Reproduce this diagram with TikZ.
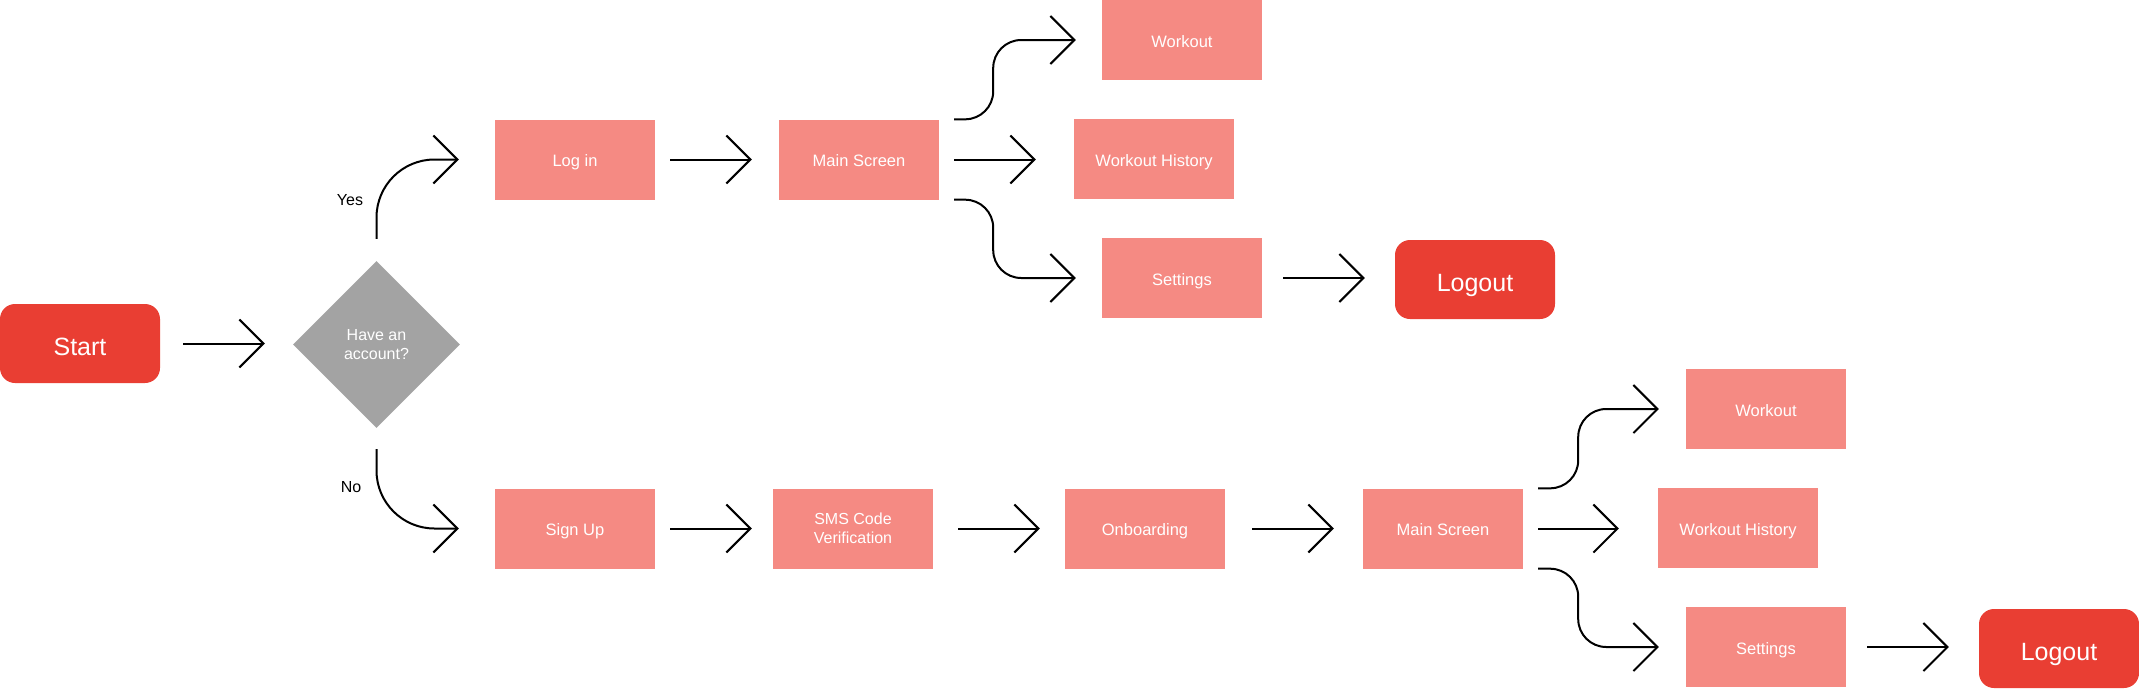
\documentclass[tikz,border=0pt]{standalone}
\usepackage{fontspec}
\setmainfont{Liberation Sans}
\usetikzlibrary{arrows.meta,shapes.geometric}
\definecolor{boxred}{HTML}{E93E33}
\definecolor{salmon}{HTML}{F58A83}
\definecolor{dgray}{HTML}{A3A3A3}
\begin{document}
\begin{tikzpicture}[x=1pt,y=1pt,
  term/.style={fill=boxred,rounded corners=15pt,minimum width=160pt,minimum height=79pt,inner sep=0pt,text=white,text height=24pt,text depth=0pt,font=\fontsize{25}{29}\selectfont},
  scr/.style={fill=salmon,minimum width=160pt,minimum height=80pt,inner sep=0pt,text=white,text height=14.8pt,text depth=0pt,font=\fontsize{16.5}{19}\selectfont},
  scrtwo/.style={fill=salmon,minimum width=160pt,minimum height=80pt,inner sep=0pt,text=white,align=center,font=\fontsize{16}{19}\selectfont},
  dec/.style={diamond,fill=dgray,minimum width=167pt,minimum height=167pt,aspect=1,inner sep=0pt,text=white,align=center,font=\fontsize{16}{19}\selectfont},
  conn/.style={draw=black,line width=2pt,-{Straight Barb[length=24pt,width=48pt]}},
  lbl/.style={font=\fontsize{16}{19}\selectfont,text=black}]
\useasboundingbox (0,0) rectangle (2139,-689);
% nodes
\node[term] (start) at (80,-343.5) {Start};
\node[dec] (d) at (376.5,-344.5) {Have an\\account?};
\node[scr] (login) at (575,-159.5) {Log in};
\node[scr] (m1) at (859,-159.5) {Main Screen};
\node[scr] (w1) at (1182,-40) {Workout};
\node[scr] (wh1) at (1154,-159) {Workout History};
\node[scr] (s1) at (1182,-278) {Settings};
\node[term] (lo1) at (1475,-279.5) {Logout};
\node[scr] (su) at (575,-528.5) {Sign Up};
\node[scrtwo] (sms) at (853,-528.5) {SMS Code\\Verification};
\node[scr] (onb) at (1145,-528.5) {Onboarding};
\node[scr] (m2) at (1443,-528.5) {Main Screen};
\node[scr] (w2) at (1766,-409) {Workout};
\node[scr] (wh2) at (1738,-528) {Workout History};
\node[scr] (s2) at (1766,-647) {Settings};
\node[term] (lo2) at (2059,-648.5) {Logout};
\node[lbl] (yes) at (350,-200) {Yes};
\node[lbl] (no) at (351,-487) {No};
% helper coordinates
\coordinate (c1) at ([xshift=54pt]m1.east);
\coordinate (c2) at ([xshift=55pt]m2.east);
% connectors
\draw[conn,shorten <=23pt,shorten >=28pt] (start.east) -- (start.east -| d.west);
\draw[conn,rounded corners=58pt] ([yshift=22pt]d.north) |- ([xshift=-36pt]login.west);
\draw[conn,rounded corners=58pt] ([yshift=-21pt]d.south) |- ([xshift=-36pt]su.west);
\draw[conn,shorten <=15pt,shorten >=27pt] (login.east) -- (m1.west);
\draw[conn,rounded corners=28pt] ([xshift=15pt]m1.north east) -| (c1 |- w1.west) -- ([xshift=-26pt]w1.west);
\draw[conn,shorten <=15pt,shorten >=38pt] (m1.east) -- (m1.east -| wh1.west);
\draw[conn,rounded corners=28pt] ([xshift=15pt]m1.south east) -| (c1 |- s1.west) -- ([xshift=-26pt]s1.west);
\draw[conn,shorten <=21pt,shorten >=30pt] (s1.east) -- (s1.east -| lo1.west);
\draw[conn,shorten <=15pt,shorten >=21pt] (su.east) -- (sms.west);
\draw[conn,shorten <=25pt,shorten >=25pt] (sms.east) -- (onb.west);
\draw[conn,shorten <=27pt,shorten >=29pt] (onb.east) -- (m2.west);
\draw[conn,rounded corners=28pt] ([xshift=15pt]m2.north east) -| (c2 |- w2.west) -- ([xshift=-27pt]w2.west);
\draw[conn,shorten <=15pt,shorten >=39pt] (m2.east) -- (m2.east -| wh2.west);
\draw[conn,rounded corners=28pt] ([xshift=15pt]m2.south east) -| (c2 |- s2.west) -- ([xshift=-27pt]s2.west);
\draw[conn,shorten <=21pt,shorten >=30pt] (s2.east) -- (s2.east -| lo2.west);
\end{tikzpicture}
\end{document}
